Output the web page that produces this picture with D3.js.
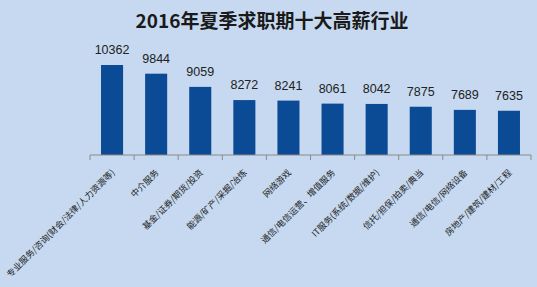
<!DOCTYPE html>
<meta charset="utf-8">
<script src="https://d3js.org/d3.v7.min.js"></script>
<style>
body { margin: 0; background: #c6d9f0; }
</style>
<div id="my_dataviz"></div>
<script>

// data
var industries = ["专业服务/咨询(财会/法律/人力资源等)", "中介服务", "基金/证券/期货/投资",
  "能源/矿产/采掘/冶炼", "网络游戏", "通信/电信运营、增值服务", "IT服务(系统/数据/维护)",
  "信托/担保/拍卖/典当", "通信/电信/网络设备", "房地产/建筑/建材/工程"];
var salaries = [10362, 9844, 9059, 8272, 8241, 8061, 8042, 7875, 7689, 7635];
var title = "2016年夏季求职期十大高薪行业";

var W = 537, H = 287;
var margin = {top: 0, right: 6, bottom: 132, left: 90},
    width = W - margin.left - margin.right,
    height = H - margin.top - margin.bottom;

var svg = d3.select("#my_dataviz")
  .append("svg")
    .attr("width", W)
    .attr("height", H);

svg.append("rect").attr("width", W).attr("height", H).attr("fill", "#c6d9f0");

svg.append("text")
  .attr("x", 272).attr("y", 28)
  .attr("text-anchor", "middle")
  .style("font-family", "'Noto Sans CJK SC', sans-serif")
  .style("font-weight", "bold")
  .style("font-size", "19px")
  .style("fill", "#1a1a1a")
  .text(title);

var g = svg.append("g")
  .attr("transform", "translate(" + margin.left + "," + margin.top + ")");

var x = d3.scaleBand()
  .domain(industries)
  .range([0, width])
  .paddingInner(0.5)
  .paddingOuter(0.25);

// axis starts at 5000
var y = d3.scaleLinear()
  .domain([5000, 12000])
  .range([height, height - 7000 * 90 / 5362]);

// bars
g.selectAll(".bar")
  .data(salaries)
  .enter()
  .append("rect")
    .attr("x", function(d, i) { return x(industries[i]); })
    .attr("y", function(d) { return y(d); })
    .attr("width", x.bandwidth())
    .attr("height", function(d) { return height - y(d); })
    .attr("fill", "#0b4a95");

// value labels
g.selectAll(".val")
  .data(salaries)
  .enter()
  .append("text")
    .attr("x", function(d, i) { return x(industries[i]) + x.bandwidth() / 2; })
    .attr("y", function(d) { return y(d) - 11; })
    .attr("text-anchor", "middle")
    .style("font-family", "'Liberation Sans', Arial, sans-serif")
    .style("font-size", "12.5px")
    .style("fill", "#222")
    .text(function(d) { return d; });

// x axis: boundary ticks between categories
var axis = g.append("g")
  .attr("transform", "translate(0," + height + ")");

axis.append("line")
  .attr("x1", 0).attr("x2", width)
  .attr("stroke", "#8a8a8a");

var step = x.step();
axis.selectAll(".tick")
  .data(d3.range(industries.length + 1))
  .enter()
  .append("line")
    .attr("x1", function(i) { return i * step; })
    .attr("x2", function(i) { return i * step; })
    .attr("y1", 0).attr("y2", 5)
    .attr("stroke", "#8a8a8a");

axis.selectAll(".lbl")
  .data(industries)
  .enter()
  .append("text")
    .attr("transform", function(d) {
      return "translate(" + (x(d) + x.bandwidth() / 2 + 1) + ",16) rotate(-45)";
    })
    .attr("text-anchor", "end")
    .attr("dy", "0.35em")
    .style("font-family", "'Noto Sans CJK SC', sans-serif")
    .style("font-size", "8.8px")
    .style("fill", "#222")
    .text(function(d) { return d; });

</script>
